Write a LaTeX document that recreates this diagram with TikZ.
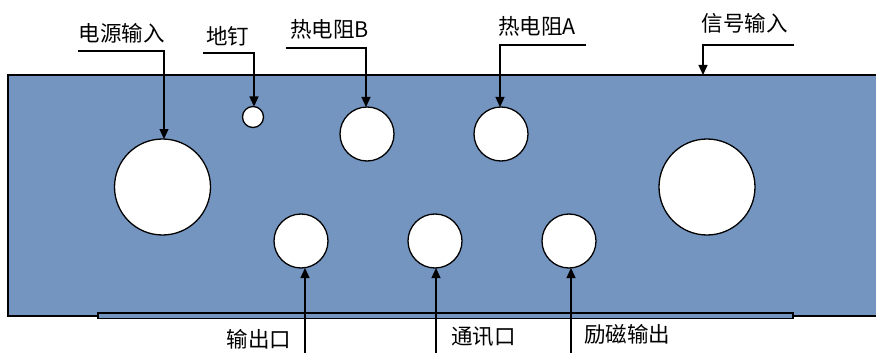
\documentclass[tikz,border=0pt]{standalone}
\usepackage{fontspec}
\setmainfont{Noto Sans CJK SC}
\usetikzlibrary{arrows.meta}
\definecolor{boardblue}{RGB}{115,149,192}
\begin{document}
\begin{tikzpicture}[x=1pt,y=-1pt,
  hole/.style={circle,draw=black,fill=white,line width=1.3pt,inner sep=0pt,outer sep=0pt},
  conn/.style={draw=black,line width=1.3pt,-{Triangle[length=10pt,width=9pt]}},
  lbl/.style={inner sep=0pt,font=\fontsize{21.5pt}{25pt}\selectfont},
  edge/.style={draw=black,line width=1.3pt}]
\useasboundingbox (0,0) rectangle (876,353);
% board
\fill[boardblue] (8,75) rectangle (877,316);
\draw[edge] (877,75) -- (8,75) -- (8,316) -- (98,316);
\draw[edge] (793,316) -- (877,316);
\filldraw[fill=boardblue,edge] (98,313) rectangle (793,318.5);
% holes
\node[hole,minimum size=96pt] (pwr) at (162.5,187) {};
\node[hole,minimum size=21pt] (gnd) at (253,117) {};
\node[hole,minimum size=54pt] (rtdB) at (367,134) {};
\node[hole,minimum size=54pt] (rtdA) at (501,134) {};
\node[hole,minimum size=96pt] (sig) at (707,187) {};
\node[hole,minimum size=54pt] (out) at (301,241) {};
\node[hole,minimum size=54pt] (com) at (435,241) {};
\node[hole,minimum size=54pt] (exc) at (569,241) {};
\coordinate (sigPt) at (703,75);
% labels
\node[lbl] (lPwr) at (121.5,33) {电源输入};
\node[lbl] (lGnd) at (227.5,36) {地钉};
\node[lbl] (lB) at (329.5,29) {热电阻B};
\node[lbl] (lA) at (537,26.5) {热电阻A};
\node[lbl] (lSig) at (744.5,23.5) {信号输入};
\node[lbl] (lOut) at (259,339) {输出口};
\node[lbl] (lCom) at (483.5,337) {通讯口};
\node[lbl] (lExc) at (627,334) {励磁输出};
% free ends
\coordinate (tPwr) at (78,51);
\coordinate (tGnd) at (203,53);
\coordinate (tB) at (286,48);
\coordinate (tA) at (586,45);
\coordinate (tSig) at (794,45);
\coordinate (tOut) at (217,353.2);
\coordinate (tCom) at (533,353.2);
\coordinate (tExc) at (676,353.2);
% connectors
\draw[conn] (tPwr) -| ([xshift=1.5pt]pwr.north);
\draw[conn] (tGnd) -| ([xshift=1pt]gnd.north);
\draw[conn] (tB) -| ([xshift=-1pt]rtdB.north);
\draw[conn] (tA) -| ([xshift=-1pt]rtdA.north);
\draw[conn] (tSig) -| (sigPt);
\draw[conn] (tOut) -| ([xshift=4pt]out.south);
\draw[conn] (tCom) -| ([xshift=1pt]com.south);
\draw[conn] (tExc) -| ([xshift=2pt]exc.south);
\end{tikzpicture}
\end{document}
